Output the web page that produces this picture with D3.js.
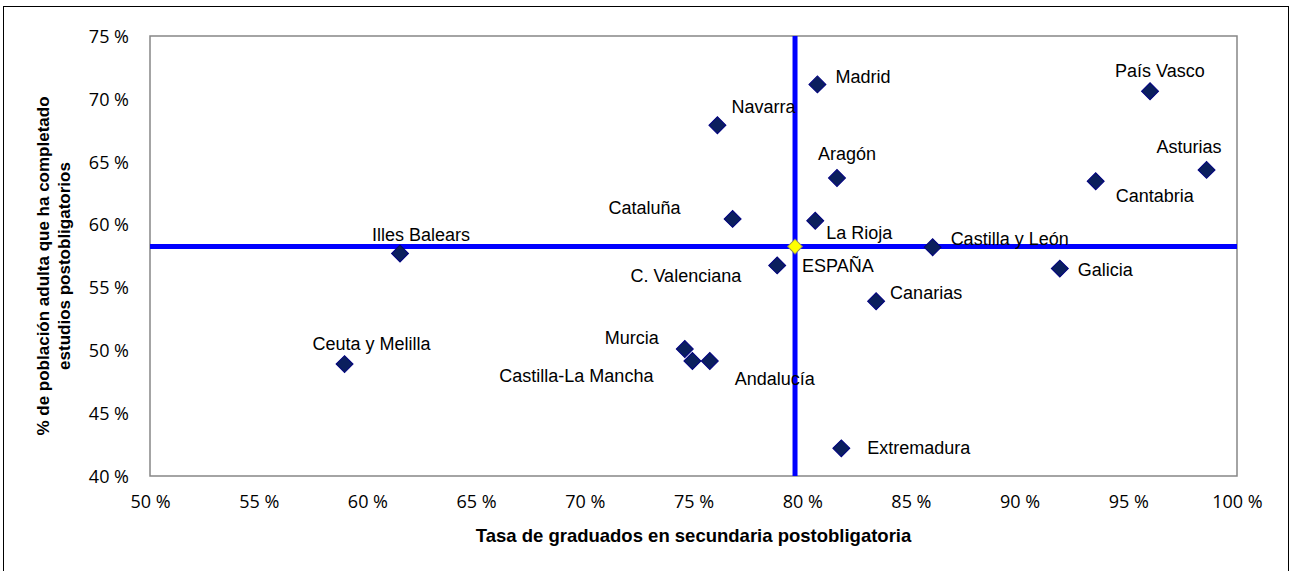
<!DOCTYPE html>
<html>
<head>
<meta charset="utf-8">
<script src="https://cdn.jsdelivr.net/npm/d3@7"></script>
<style>
  html, body { margin: 0; padding: 0; background: #fff; }
  svg { display: block; }
</style>
</head>
<body>
<svg id="chart" width="1293" height="571"></svg>
<script>
// ---- Data ----
const regions = ["País Vasco", "Madrid", "Navarra", "Aragón", "Asturias", "Cantabria", "Cataluña", "La Rioja",
  "Illes Balears", "Castilla y León", "C. Valenciana", "Galicia", "Canarias", "Ceuta y Melilla", "Murcia",
  "Castilla-La Mancha", "Andalucía", "Extremadura"];
const graduados = [96.0, 80.7, 76.1, 81.6, 98.6, 93.5, 76.8, 80.6, 61.5, 86.0, 78.85, 91.85, 83.4, 58.95, 74.6,
  74.95, 75.75, 81.8];
const poblacion = [70.6, 71.15, 67.9, 63.7, 64.35, 63.45, 60.45, 60.3, 57.7, 58.2, 56.75, 56.5, 53.9, 48.9, 50.1,
  49.15, 49.15, 42.2];
const espana = { name: "ESPAÑA", x: 79.67, y: 58.25 };
const xTicks = [50, 55, 60, 65, 70, 75, 80, 85, 90, 95, 100];
const yTicks = [40, 45, 50, 55, 60, 65, 70, 75];
const xTitle = "Tasa de graduados en secundaria postobligatoria";
const yTitleLines = ["% de población adulta que ha completado", "estudios postobligatorios"];

// ---- Label placement (layout only) ----
const labelPlacement = {
  "País Vasco": [-35, -14, "start"],
  "Madrid": [18, -1, "start"],
  "Navarra": [14, -12, "start"],
  "Aragón": [-19, -18, "start"],
  "Asturias": [15, -17, "end"],
  "Cantabria": [20, 21, "start"],
  "Cataluña": [-52, -5, "end"],
  "La Rioja": [11, 18, "start"],
  "Illes Balears": [-28, -12, "start"],
  "Castilla y León": [18, -2, "start"],
  "C. Valenciana": [-36, 17, "end"],
  "Galicia": [18, 7, "start"],
  "Canarias": [14, -2, "start"],
  "Ceuta y Melilla": [-32, -14, "start"],
  "Murcia": [-26, -5, "end"],
  "Castilla-La Mancha": [-39, 21, "end"],
  "Andalucía": [25, 24, "start"],
  "Extremadura": [26, 6, "start"],
  "ESPAÑA": [7, 25, "start"]
};

const svg = d3.select("#chart");
const plot = { left: 150, right: 1237, top: 36, bottom: 476 };

const x = d3.scaleLinear().domain([50, 100]).range([plot.left, plot.right]);
const y = d3.scaleLinear().domain([40, 75]).range([plot.bottom, plot.top]);

// outer frame
svg.append("rect").attr("x", 3.5).attr("y", 6.5).attr("width", 1285).attr("height", 600)
  .attr("fill", "#fff").attr("stroke", "#000").attr("stroke-width", 1);

// plot border
svg.append("rect").attr("x", plot.left).attr("y", plot.top)
  .attr("width", plot.right - plot.left).attr("height", plot.bottom - plot.top)
  .attr("fill", "#fff").attr("stroke", "#868686").attr("stroke-width", 1.5);

const tickFont = "'Open Sans', 'Noto Sans', sans-serif";
const labelFont = "'Liberation Sans', Arial, sans-serif";

// axes (labels only)
const xAxis = d3.axisBottom(x).tickValues(xTicks).tickSize(0).tickPadding(0).tickFormat(d => d + " %");
const gx = svg.append("g").attr("transform", `translate(0,${plot.bottom + 19})`).call(xAxis);
gx.select(".domain").remove();
gx.selectAll("text").attr("font-family", tickFont).attr("font-size", 18).attr("fill", "#000")
  .attr("dy", "0.71em");

const yAxis = d3.axisLeft(y).tickValues(yTicks).tickSize(0).tickPadding(0).tickFormat(d => d + " %");
const gy = svg.append("g").attr("transform", `translate(${plot.left - 21},0)`).call(yAxis);
gy.select(".domain").remove();
gy.selectAll("text").attr("font-family", tickFont).attr("font-size", 18).attr("fill", "#000")
  .attr("dy", "0.35em");

// reference lines through ESPAÑA
svg.append("line").attr("x1", plot.left).attr("x2", plot.right)
  .attr("y1", y(espana.y)).attr("y2", y(espana.y))
  .attr("stroke", "#0000FF").attr("stroke-width", 5);
svg.append("line").attr("x1", x(espana.x)).attr("x2", x(espana.x))
  .attr("y1", plot.top).attr("y2", plot.bottom)
  .attr("stroke", "#0000FF").attr("stroke-width", 5);

// points
const pts = regions.map((r, i) => ({ name: r, x: graduados[i], y: poblacion[i] }));
const diamond = d3.symbol(d3.symbolSquare, 144);
svg.append("g").selectAll("path").data(pts).join("path")
  .attr("d", diamond)
  .attr("transform", d => `translate(${x(d.x)},${y(d.y)}) rotate(45)`)
  .attr("fill", "#0B1F5E").attr("stroke", "#000080").attr("stroke-width", 1);

svg.append("path").attr("d", d3.symbol(d3.symbolSquare, 110))
  .attr("transform", `translate(${x(espana.x)},${y(espana.y)}) rotate(45)`)
  .attr("fill", "#FFFF00").attr("stroke", "#8a8a60").attr("stroke-width", 1);

// labels
const allLabels = pts.concat([espana]);
svg.append("g").selectAll("text").data(allLabels).join("text")
  .attr("x", d => x(d.x) + labelPlacement[d.name][0])
  .attr("y", d => y(d.y) + labelPlacement[d.name][1])
  .attr("text-anchor", d => labelPlacement[d.name][2])
  .attr("font-family", labelFont).attr("font-size", 18).attr("fill", "#000")
  .text(d => d.name);

// axis titles
svg.append("text").attr("x", (plot.left + plot.right) / 2).attr("y", 542)
  .attr("text-anchor", "middle").attr("font-family", labelFont).attr("font-weight", "bold")
  .attr("font-size", 18.5).attr("fill", "#000").text(xTitle);

const yt = svg.append("text").attr("transform", "translate(49,266) rotate(-90)")
  .attr("text-anchor", "middle").attr("font-family", labelFont).attr("font-weight", "bold")
  .attr("font-size", 17).attr("fill", "#000");
yTitleLines.forEach((t, i) => {
  yt.append("tspan").attr("x", 0).attr("dy", i === 0 ? 0 : 21).text(t);
});
</script>
</body>
</html>
